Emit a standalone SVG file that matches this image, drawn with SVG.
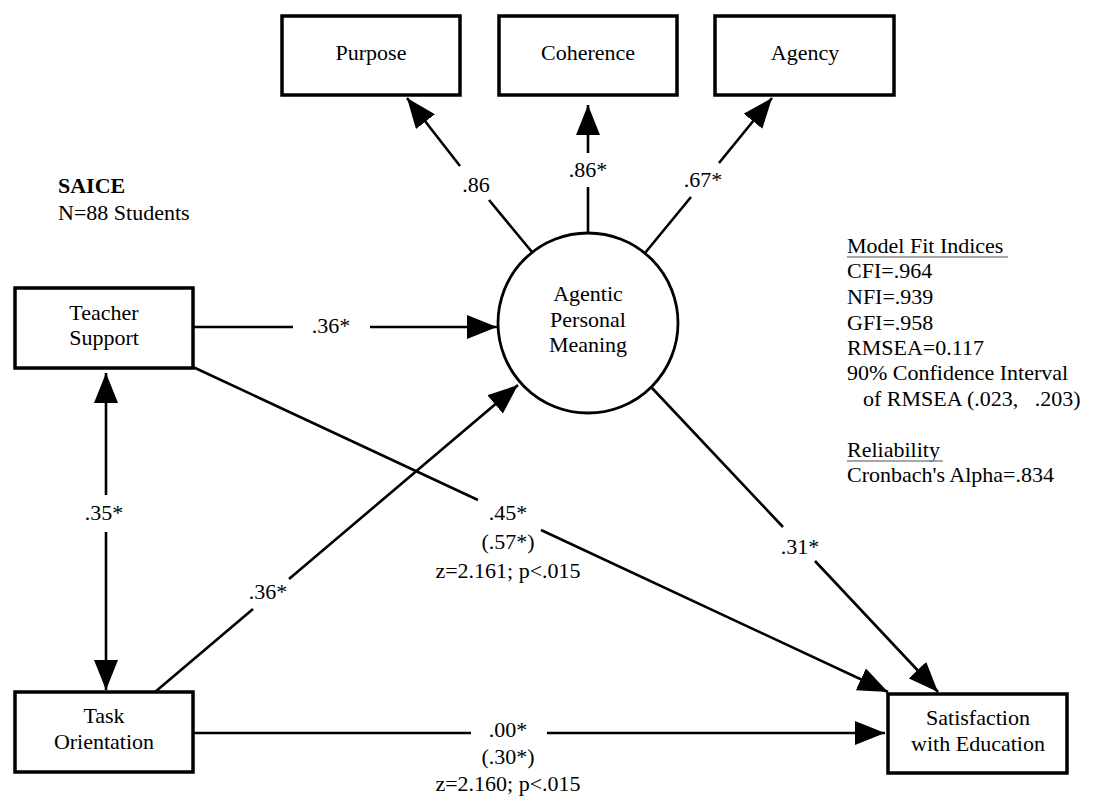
<svg xmlns="http://www.w3.org/2000/svg" width="1109" height="798" viewBox="0 0 1109 798">
<style>
text{font-family:"Liberation Serif",serif;font-size:22px;fill:#000}
.m{text-anchor:middle}
.box{fill:#fff;stroke:#000;stroke-width:3.5}
.node{fill:#fff;stroke:#000;stroke-width:2.8}
.edge{fill:none;stroke:#000;stroke-width:2.6}
.ul{stroke:#8a8a8a;stroke-width:1.5}
</style>
<defs>
<marker id="arr" markerUnits="userSpaceOnUse" markerWidth="30" markerHeight="24" refX="30" refY="12" orient="auto-start-reverse" viewBox="0 0 30 24">
<path d="M0,0 L30,12 L0,24 Z" fill="#000"/>
</marker>
</defs>
<rect width="1109" height="798" fill="#fff"/>

<g id="connectors">
<path class="edge" d="M532,252 L489,200 M460,166 L407,98" marker-end="url(#arr)"/>
<path class="edge" d="M588,233 L588,187 M588,153 L588,105" marker-end="url(#arr)"/>
<path class="edge" d="M645,253 L691,197 M719,163 L772,98" marker-end="url(#arr)"/>
<path class="edge" d="M193,327 L293,327 M370,327 L497,327" marker-end="url(#arr)"/>
<path class="edge" d="M106,495 L106,373" marker-end="url(#arr)"/>
<path class="edge" d="M106,532 L106,690" marker-end="url(#arr)"/>
<path class="edge" d="M155,692 L253,609 M289,579 L518,385" marker-end="url(#arr)"/>
<path class="edge" d="M193,367 L478,500 M541,530 L888,692" marker-end="url(#arr)"/>
<path class="edge" d="M652,388 L783,527 M815,561 L938,692" marker-end="url(#arr)"/>
<path class="edge" d="M193,733 L471,733 M547,733 L885,733" marker-end="url(#arr)"/>
<text class="m" x="476" y="192">.86</text>
<text class="m" x="588" y="177">.86*</text>
<text class="m" x="703" y="187">.67*</text>
<text class="m" x="331" y="333">.36*</text>
<text class="m" x="104" y="520">.35*</text>
<text class="m" x="268" y="599">.36*</text>
<text class="m" x="508" y="520">.45*</text>
<text class="m" x="508" y="549">(.57*)</text>
<text class="m" x="508" y="578">z=2.161; p&lt;.015</text>
<text class="m" x="800" y="554">.31*</text>
<text class="m" x="508" y="737">.00*</text>
<text class="m" x="508" y="764">(.30*)</text>
<text class="m" x="508" y="791">z=2.160; p&lt;.015</text>
</g>

<g id="purpose"><rect class="box" x="282" y="16" width="178" height="79"/><text class="m" x="371" y="60">Purpose</text></g>
<g id="coherence"><rect class="box" x="499" y="16" width="178" height="79"/><text class="m" x="588" y="60">Coherence</text></g>
<g id="agency"><rect class="box" x="715" y="16" width="179" height="79"/><text class="m" x="805" y="60">Agency</text></g>

<g id="apm"><circle class="node" cx="588" cy="323" r="90"/>
<text class="m" x="588" y="301">Agentic</text>
<text class="m" x="588" y="327">Personal</text>
<text class="m" x="588" y="352">Meaning</text></g>

<g id="teacher-support"><rect class="box" x="15" y="288" width="178" height="80"/>
<text class="m" x="104" y="320">Teacher</text>
<text class="m" x="104" y="345">Support</text></g>

<g id="task-orientation"><rect class="box" x="15" y="692" width="178" height="80"/>
<text class="m" x="104" y="723">Task</text>
<text class="m" x="104" y="749">Orientation</text></g>

<g id="satisfaction"><rect class="box" x="888" y="694" width="179" height="79"/>
<text class="m" x="978" y="725">Satisfaction</text>
<text class="m" x="978" y="751">with Education</text></g>

<g id="sample">
<text x="58" y="193" font-weight="bold">SAICE</text>
<text x="58" y="220">N=88 Students</text>
</g>

<g id="fit">
<text x="847" y="253">Model Fit Indices</text>
<line class="ul" x1="847" y1="257" x2="1008" y2="257"/>
<text x="847" y="278">CFI=.964</text>
<text x="847" y="304">NFI=.939</text>
<text x="847" y="330">GFI=.958</text>
<text x="847" y="355">RMSEA=0.117</text>
<text x="847" y="380">90% Confidence Interval</text>
<text x="863" y="406" style="white-space:pre">of RMSEA (.023,   .203)</text>
<text x="847" y="457">Reliability</text>
<line class="ul" x1="847" y1="461" x2="943" y2="461"/>
<text x="847" y="482">Cronbach's Alpha=.834</text>
</g>
</svg>
